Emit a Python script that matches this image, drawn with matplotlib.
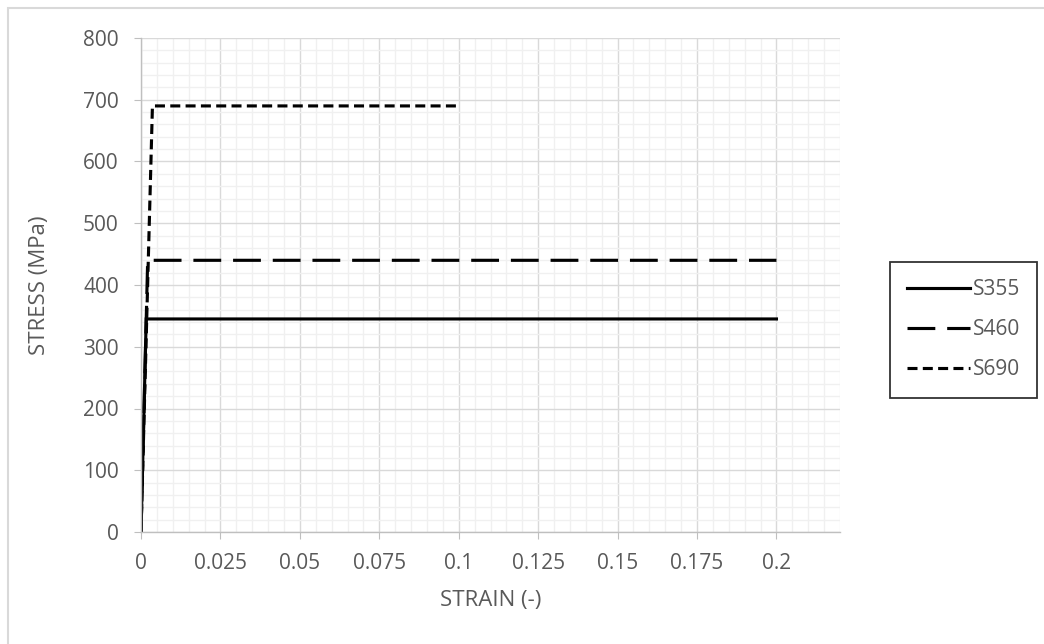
import matplotlib
matplotlib.use("Agg")
import matplotlib.pyplot as plt
from matplotlib.ticker import MultipleLocator
from matplotlib.patches import Rectangle

# Bilinear stress-strain curves for three steel grades
s355_strain = [0.0, 0.00164, 0.2]
s355_stress = [0, 345, 345]
s460_strain = [0.0, 0.0021, 0.2]
s460_stress = [0, 440, 440]
s690_strain = [0.0, 0.0036, 0.1]
s690_stress = [0, 690, 690]

x_ticks = [0, 0.025, 0.05, 0.075, 0.1, 0.125, 0.15, 0.175, 0.2]
x_tick_labels = ["0", "0.025", "0.05", "0.075", "0.1", "0.125", "0.15", "0.175", "0.2"]
y_ticks = [0, 100, 200, 300, 400, 500, 600, 700, 800]

W, H = 1044, 644
plt.rcParams["font.family"] = ["Open Sans", "DejaVu Sans"]
fig = plt.figure(figsize=(W / 100, H / 100), dpi=100)

# light frame around the chart area
fig.patches.append(Rectangle((8 / W, -0.1), 1.2, 1 - 8 / H + 0.1, transform=fig.transFigure,
                             fill=False, edgecolor="#d9d9d9", linewidth=1.5))

left, right, top, bottom = 141, 840, 38, 532
ax = fig.add_axes([left / W, (H - bottom) / H, (right - left) / W, (bottom - top) / H])

text_color = "#595959"
lw = 2.25
ax.plot(s355_strain, s355_stress, color="black", lw=lw, label="S355", solid_joinstyle="miter")
ax.plot(s460_strain, s460_stress, color="black", lw=lw, label="S460", dashes=(8.9, 3.8))
ax.plot(s690_strain, s690_stress, color="black", lw=lw, label="S690", dashes=(3.2, 1.7))

ax.set_xlim(0, 0.22)
ax.set_ylim(0, 800)
ax.set_xticks(x_ticks)
ax.set_xticklabels(x_tick_labels)
ax.set_yticks(y_ticks)
ax.xaxis.set_minor_locator(MultipleLocator(0.005))
ax.yaxis.set_minor_locator(MultipleLocator(20))

ax.grid(which="major", color="#d9d9d9", lw=1.0)
ax.grid(which="minor", color="#f0f0f0", lw=1.0)
ax.set_axisbelow(True)

for side in ["top", "right"]:
    ax.spines[side].set_visible(False)
for side in ["left", "bottom"]:
    ax.spines[side].set_color("#bfbfbf")
    ax.spines[side].set_linewidth(1.0)

ax.tick_params(which="major", direction="out", length=5, color="#bfbfbf",
               labelcolor=text_color, labelsize=15)
ax.tick_params(axis="x", which="major", pad=10)
ax.tick_params(axis="y", which="major", pad=11)
ax.tick_params(which="minor", length=0)

ax.set_xlabel("STRAIN (-)", color=text_color, fontsize=16)
ax.set_ylabel("STRESS (MPa)", color=text_color, fontsize=16)
ax.xaxis.set_label_coords((491 - left) / (right - left), (bottom - 590) / (bottom - top))
ax.yaxis.set_label_coords((50 - left) / (right - left), 0.5)

leg = ax.legend(loc="upper left", bbox_to_anchor=(890 / W, (H - 262) / H),
                bbox_transform=fig.transFigure, frameon=True, fancybox=False,
                edgecolor="black", fontsize=15, handlelength=3.0, handletextpad=0.15,
                labelspacing=0.92, borderpad=0.82, borderaxespad=0)
leg.get_frame().set_linewidth(1.3)
for t in leg.get_texts():
    t.set_color(text_color)

fig.savefig("out.png", dpi=100)
